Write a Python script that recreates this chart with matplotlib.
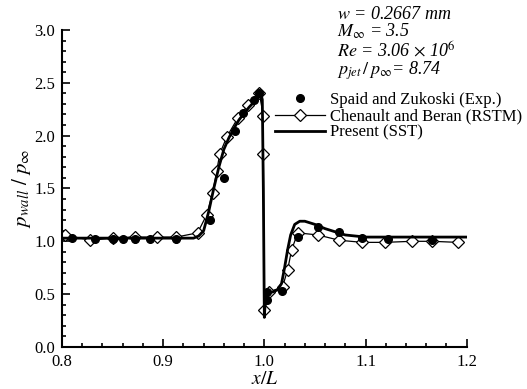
import matplotlib
matplotlib.use("Agg")
import matplotlib.pyplot as plt
from matplotlib.ticker import MultipleLocator

plt.rcParams['font.family'] = ['Liberation Serif', 'DejaVu Serif']
plt.rcParams['mathtext.fontset'] = 'stix'

# Spaid and Zukoski experiment (filled circles)
exp_x = [0.810, 0.833, 0.850, 0.860, 0.872, 0.887, 0.913, 0.946, 0.960, 0.971,
         0.979, 0.990, 0.995, 1.003, 1.003, 1.017, 1.033, 1.053, 1.074, 1.097,
         1.122, 1.166]
exp_y = [1.03, 1.02, 1.02, 1.02, 1.02, 1.02, 1.02, 1.20, 1.60, 2.04,
         2.21, 2.34, 2.40, 0.44, 0.52, 0.53, 1.04, 1.14, 1.09, 1.03,
         1.02, 1.01]

# Chenault and Beran (RSTM), diamonds joined by thin line
rstm_x = [0.803, 0.828, 0.850, 0.872, 0.894, 0.913, 0.934, 0.943, 0.949, 0.953,
          0.956, 0.963, 0.974, 0.984, 0.995, 0.999, 0.999, 1.000, 1.005, 1.018,
          1.023, 1.027, 1.033, 1.053, 1.074, 1.097, 1.119, 1.146, 1.166, 1.191]
rstm_y = [1.06, 1.01, 1.03, 1.04, 1.04, 1.04, 1.08, 1.25, 1.46, 1.67,
          1.83, 1.99, 2.17, 2.29, 2.40, 2.19, 1.83, 0.35, 0.52, 0.57,
          0.73, 0.92, 1.08, 1.06, 1.01, 0.99, 0.99, 1.00, 1.00, 0.99]

# Present (SST), thick line
sst_x = [0.800, 0.930, 0.935, 0.940, 0.945, 0.950, 0.955, 0.960, 0.965, 0.970,
         0.975, 0.980, 0.985, 0.990, 0.995, 0.997, 0.998, 0.999, 1.000, 1.001,
         1.003, 1.008, 1.013, 1.017, 1.020, 1.023, 1.026, 1.030, 1.035, 1.040,
         1.050, 1.060, 1.070, 1.080, 1.100, 1.200]
sst_y = [1.03, 1.03, 1.05, 1.10, 1.28, 1.50, 1.70, 1.87, 1.98, 2.07,
         2.15, 2.21, 2.27, 2.32, 2.37, 2.38, 2.34, 1.50, 0.28, 0.45,
         0.52, 0.52, 0.54, 0.60, 0.75, 0.92, 1.06, 1.16, 1.19, 1.19,
         1.16, 1.12, 1.09, 1.06, 1.04, 1.04]

fig = plt.figure(figsize=(5.27, 3.89), dpi=100)
ax = fig.add_axes([0.1176, 0.108, 0.768, 0.815])

ax.plot(exp_x, exp_y, 'o', color='black', ms=5.5, ls='none',
        label='Spaid and Zukoski (Exp.)', zorder=3)
ax.plot(rstm_x, rstm_y, '-D', color='black', mfc='white', mec='black',
        ms=6, mew=0.9, lw=0.9, label='Chenault and Beran (RSTM)', zorder=2)
ax.plot(sst_x, sst_y, '-', color='black', lw=2.0, label='Present (SST)', zorder=4)

ax.set_xlim(0.8, 1.2)
ax.set_ylim(0.0, 3.0)
ax.xaxis.set_major_locator(MultipleLocator(0.1))
ax.xaxis.set_minor_locator(MultipleLocator(0.02))
ax.yaxis.set_major_locator(MultipleLocator(0.5))
ax.yaxis.set_minor_locator(MultipleLocator(0.1))
ax.tick_params(which='both', direction='in', labelsize=12, width=1.2)
ax.tick_params(which='major', length=6, pad=5)
ax.tick_params(which='minor', length=3)
ax.spines['top'].set_visible(False)
ax.spines['right'].set_visible(False)
ax.spines['left'].set_linewidth(1.5)
ax.spines['bottom'].set_linewidth(1.5)

ax.set_xlabel(r'$x/L$', fontsize=14, labelpad=1)
ax.set_ylabel(r'$p_{wall}\ /\ p_{\infty}$', fontsize=15, labelpad=1)

leg = ax.legend(loc='upper left', bbox_to_anchor=(0.51, 0.825), frameon=False,
                fontsize=12, handlelength=3.0, handletextpad=0.3,
                labelspacing=0.02, borderaxespad=0)

txt = (r'$w$ = 0.2667 mm' '\n'
       r'$M_{\infty}$ = 3.5' '\n'
       r'$Re$ = 3.06 $\times$ 10$^6$' '\n'
       r'$p_{jet}\,/\,p_{\infty}$= 8.74')
fig.text(0.640, 0.985, txt, fontsize=13, fontstyle='italic', va='top',
         ha='left', linespacing=0.95)

fig.savefig('out.png', dpi=100)
